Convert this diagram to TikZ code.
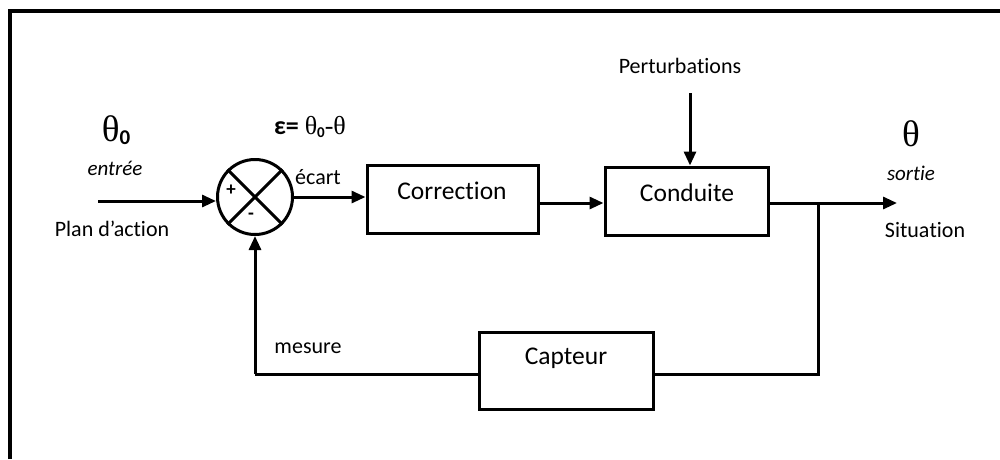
\documentclass[tikz,border=0pt]{standalone}
\usepackage{fontspec}
\setmainfont{Carlito}[RawFeature={-liga;-clig;-dlig;-calt}]
\newfontfamily\thetafont{Liberation Serif}
\usetikzlibrary{arrows.meta,calc}
\begin{document}
\begin{tikzpicture}[x=1pt,y=-1pt,
  box/.style={draw,line width=3pt,rectangle,inner sep=0pt},
  arr/.style={line width=3pt,-{Triangle[length=14pt,width=12pt]}},
  ln/.style={line width=3pt},
  txt/.style={inner sep=0pt,font=\fontsize{22}{24}\selectfont},
  btxt/.style={inner sep=0pt,font=\fontsize{25.5}{28}\selectfont},
  itxt/.style={inner sep=0pt,font=\fontsize{21}{23}\selectfont\itshape}]
\useasboundingbox (0,0) rectangle (1000,459);
\draw[line width=4.5pt] (10,459) -- (10,11) -- (1000,11);
% blocks
\node[draw,circle,line width=3pt,minimum size=75pt,inner sep=0pt] (sum) at (255,197) {};
\draw[line width=3pt] (sum.45) -- (sum.225) (sum.135) -- (sum.315);
\node[box,minimum width=171pt,minimum height=68pt] (corr) at (452.5,199) {};
\node[box,minimum width=163pt,minimum height=68pt] (cond) at (686.5,201) {};
\node[box,minimum width=174pt,minimum height=77pt] (capt) at (566,370.5) {};
\node[btxt] (corrt) at (452,191) {Correc\kern0pt tion};
\node[btxt] (condt) at (687,193) {Conduite};
\node[btxt] (captt) at (566,358) {Capteur};
% coordinates
\coordinate (in) at (98,201);
\coordinate (pert) at (690,93);
\coordinate (out) at (897,203);
\coordinate (br) at (818,203);
\coordinate (brd) at (818,374);
\coordinate (fbl) at (255,374);
% connectors
\draw[arr] (in) -- (in -| sum.west);
\draw[arr] (sum.east) -- (sum.east -| corr.west);
\draw[arr] ([yshift=-4pt]corr.east) -- ([yshift=-2pt]cond.west);
\draw[arr] (pert) -- (pert |- cond.north);
\draw[arr] ([yshift=-2pt]cond.east) -- (out);
\draw[ln] (br) -- (brd) -- (brd -| capt.east);
\draw[ln] (fbl -| capt.west) -- (fbl);
\draw[arr] (fbl) -- (sum.south);
% labels
\node[inner sep=0pt] (th0) at (116,130) {\fontsize{37}{39}\selectfont\thetafont θ\raisebox{-3pt}{\fontsize{21}{21}\selectfont\rmfamily\bfseries 0}};
\node[inner sep=0pt] (eps) at (310,127) {\fontsize{26}{28}\selectfont\bfseries ε=\ {\mdseries\thetafont θ\raisebox{-3pt}{\fontsize{15}{15}\selectfont\rmfamily\bfseries 0}-θ}};
\node[itxt] (entree) at (115,168) {entrée};
\node[txt] (plan) at (112,229) {Plan d’ac\kern0pt tion};
\node[txt] (ecart) at (318,177) {écart};
\node[txt,font=\fontsize{19}{21}\selectfont\bfseries] (plus) at (231,190) {+};
\node[txt,font=\fontsize{19}{21}\selectfont\bfseries] (minus) at (251,216) {-};
\node[txt] (perttxt) at (680,66) {Perturba\kern0pt tions};
\node[inner sep=0pt] (th) at (911,134) {\fontsize{37}{39}\selectfont\thetafont θ};
\node[itxt] (sortie) at (911,173) {sor\kern0pt tie};
\node[txt] (sit) at (925,230) {Situa\kern0pt tion};
\node[txt] (mes) at (308,348) {mesure};
\end{tikzpicture}
\end{document}
